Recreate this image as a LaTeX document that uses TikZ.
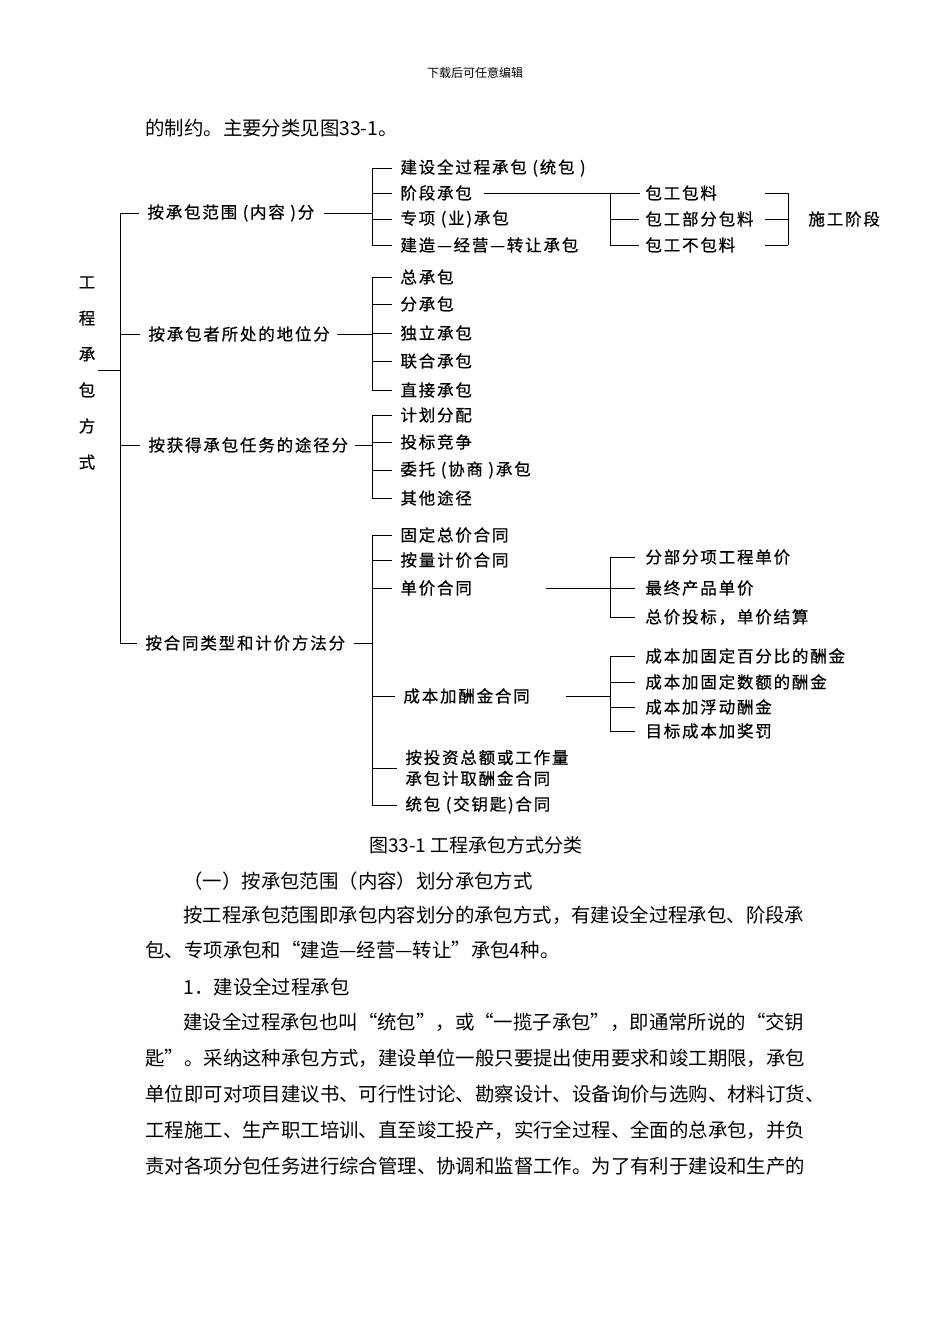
\documentclass[tikz,border=0pt]{standalone}
\usepackage{fontspec}
\setmainfont{Noto Sans CJK SC}
\newfontfamily\dgfont[FakeBold=0.6,LetterSpace=11]{Noto Sans CJK SC}
\newcommand{\zql}{{\addfontfeature{RawFeature=+fwid}“}}
\newcommand{\zqr}{{\addfontfeature{RawFeature=+fwid}”}}
\begin{document}
\begin{tikzpicture}[x=1pt,y=-1pt,line width=0.9pt,
  dg/.style={anchor=west,inner sep=0pt,font=\dgfont\fontsize{16.5}{21}\selectfont},
  body/.style={anchor=west,inner sep=0pt,font=\fontsize{19.4}{20}\selectfont},
  capt/.style={inner sep=0pt,font=\fontsize{19}{20}\selectfont},
  hdr/.style={inner sep=0pt,font=\fontsize{12}{13}\selectfont}]
\useasboundingbox (0,0) rectangle (950,1344);

% page text
\node[hdr] (hdr) at (475,73) {下载后可任意编辑};
\node[body] (p0) at (145,128) {的制约。主要分类见图33-1。};

% root
\node[inner sep=0pt,align=center,font=\dgfont\fontsize{16.5}{36}\selectfont] (root) at (87,373) {工\\程\\承\\包\\方\\式};
\coordinate (m) at (120,370);
\coordinate (mt) at (120,213);
\coordinate (mb) at (120,643);
\draw (98,370) -- (m);
\draw (mt) -- (mb);

% first level
\node[dg] (a1) at (147,213) {按承包范围 (内容 )分};
\node[dg] (a2) at (148,334) {按承包者所处的地位分};
\node[dg] (a3) at (148,445) {按获得承包任务的途径分};
\node[dg] (a4) at (145,643) {按合同类型和计价方法分};
\foreach \n in {a1,a2,a3,a4}{\draw (mt |- \n) -- ([xshift=-8pt]\n.west);}

% group 1
\coordinate (g1t) at (372,168);
\coordinate (g1b) at (372,245);
\draw (g1t) -- (g1b);
\draw ([xshift=9pt]a1.east) -- (g1t |- a1);
\node[dg] (b11) at (400,168) {建设全过程承包 (统包 )};
\node[dg] (b12) at (400,193) {阶段承包};
\node[dg] (b13) at (400,219) {专项 (业)承包};
\node[dg] (b14) at (400,245) {建造—经营—转让承包};
\foreach \n in {b11,b12,b13,b14}{\draw (g1t |- \n) -- ([xshift=-8pt]\n.west);}
\node[dg] (c11) at (645,193) {包工包料};
\node[dg] (c12) at (645,219) {包工部分包料};
\node[dg] (c13) at (645,245) {包工不包料};
\coordinate (h1t) at (610,193);
\coordinate (h1b) at (610,245);
\draw (h1t) -- (h1b);
\draw ([xshift=12pt]b12.east) -- ([xshift=-5pt]c11.west);
\foreach \n in {c12,c13}{\draw (h1t |- \n) -- ([xshift=-6pt]\n.west);}
\coordinate (k1t) at (788,193);
\coordinate (k1b) at (788,245);
\draw (k1t) -- (k1b);
\draw (765,193) -- (k1t);
\draw (765,219) -- (k1t |- c12);
\draw (765,245) -- (k1b);
\node[dg] (d1) at (808,219) {施工阶段};

% group 2
\coordinate (g2t) at (372,277);
\coordinate (g2b) at (372,390);
\draw (g2t) -- (g2b);
\draw ([xshift=7pt]a2.east) -- (g2t |- a2);
\node[dg] (b21) at (400,277) {总承包};
\node[dg] (b22) at (400,304) {分承包};
\node[dg] (b23) at (400,333) {独立承包};
\node[dg] (b24) at (400,361) {联合承包};
\node[dg] (b25) at (400,390) {直接承包};
\foreach \n in {b21,b22,b23,b24,b25}{\draw (g2t |- \n) -- ([xshift=-8pt]\n.west);}

% group 3
\coordinate (g3t) at (372,415);
\coordinate (g3b) at (372,498);
\draw (g3t) -- (g3b);
\draw ([xshift=6pt]a3.east) -- (g3t |- a3);
\node[dg] (b31) at (400,415) {计划分配};
\node[dg] (b32) at (400,442) {投标竞争};
\node[dg] (b33) at (400,470) {委托 (协商 )承包};
\node[dg] (b34) at (400,498) {其他途径};
\foreach \n in {b31,b32,b33,b34}{\draw (g3t |- \n) -- ([xshift=-8pt]\n.west);}

% group 4
\coordinate (g4t) at (372,535);
\coordinate (g4b) at (372,805);
\draw (g4t) -- (g4b);
\draw ([xshift=8pt]a4.east) -- (g4t |- a4);
\node[dg] (b41) at (400,535) {固定总价合同};
\node[dg] (b42) at (400,560) {按量计价合同};
\node[dg] (b43) at (400,588) {单价合同};
\node[dg] (b44) at (403,696) {成本加酬金合同};
\node[dg,align=left] (b45) at (405,768) {按投资总额或工作量\\承包计取酬金合同};
\node[dg] (b46) at (405,805) {统包 (交钥匙)合同};
\foreach \n in {b41,b42,b43,b44,b45,b46}{\draw (g4t |- \n) -- ([xshift=-8pt]\n.west);}

\coordinate (h2t) at (610,557);
\coordinate (h2b) at (610,617);
\draw (h2t) -- (h2b);
\node[dg] (c21) at (645,557) {分部分项工程单价};
\node[dg] (c22) at (645,588) {最终产品单价};
\node[dg] (c23) at (645,617) {总价投标，单价结算};
\draw ([xshift=74pt]b43.east) -- ([xshift=-10pt]c22.west);
\foreach \n in {c21,c23}{\draw (h2t |- \n) -- ([xshift=-10pt]\n.west);}

\coordinate (h3t) at (610,656);
\coordinate (h3b) at (610,731);
\draw (h3t) -- (h3b);
\draw ([xshift=36pt]b44.east) -- (h3t |- b44);
\node[dg] (c31) at (645,656) {成本加固定百分比的酬金};
\node[dg] (c32) at (645,682) {成本加固定数额的酬金};
\node[dg] (c33) at (645,707) {成本加浮动酬金};
\node[dg] (c34) at (645,731) {目标成本加奖罚};
\foreach \n in {c31,c32,c33,c34}{\draw (h3t |- \n) -- ([xshift=-10pt]\n.west);}

% caption and body
\node[capt] (cap) at (476,845) {图33-1 工程承包方式分类};
\node[body] (p1) at (183,881) {（一）按承包范围（内容）划分承包方式};
\node[body] (p2) at (183,915) {按工程承包范围即承包内容划分的承包方式，有建设全过程承包、阶段承};
\node[body] (p3) at (145,950) {包、专项承包和\zql 建造—经营—转让\zqr 承包4种。};
\node[body] (p4) at (183,987) {1．建设全过程承包};
\node[body] (p5) at (183,1022) {建设全过程承包也叫\zql 统包\zqr ，或\zql 一揽子承包\zqr ，即通常所说的\zql 交钥};
\node[body] (p6) at (145,1058) {匙\zqr 。采纳这种承包方式，建设单位一般只要提出使用要求和竣工期限，承包};
\node[body] (p7) at (145,1094) {单位即可对项目建议书、可行性讨论、勘察设计、设备询价与选购、材料订货、};
\node[body] (p8) at (145,1130) {工程施工、生产职工培训、直至竣工投产，实行全过程、全面的总承包，并负};
\node[body] (p9) at (145,1166) {责对各项分包任务进行综合管理、协调和监督工作。为了有利于建设和生产的};
\end{tikzpicture}
\end{document}
